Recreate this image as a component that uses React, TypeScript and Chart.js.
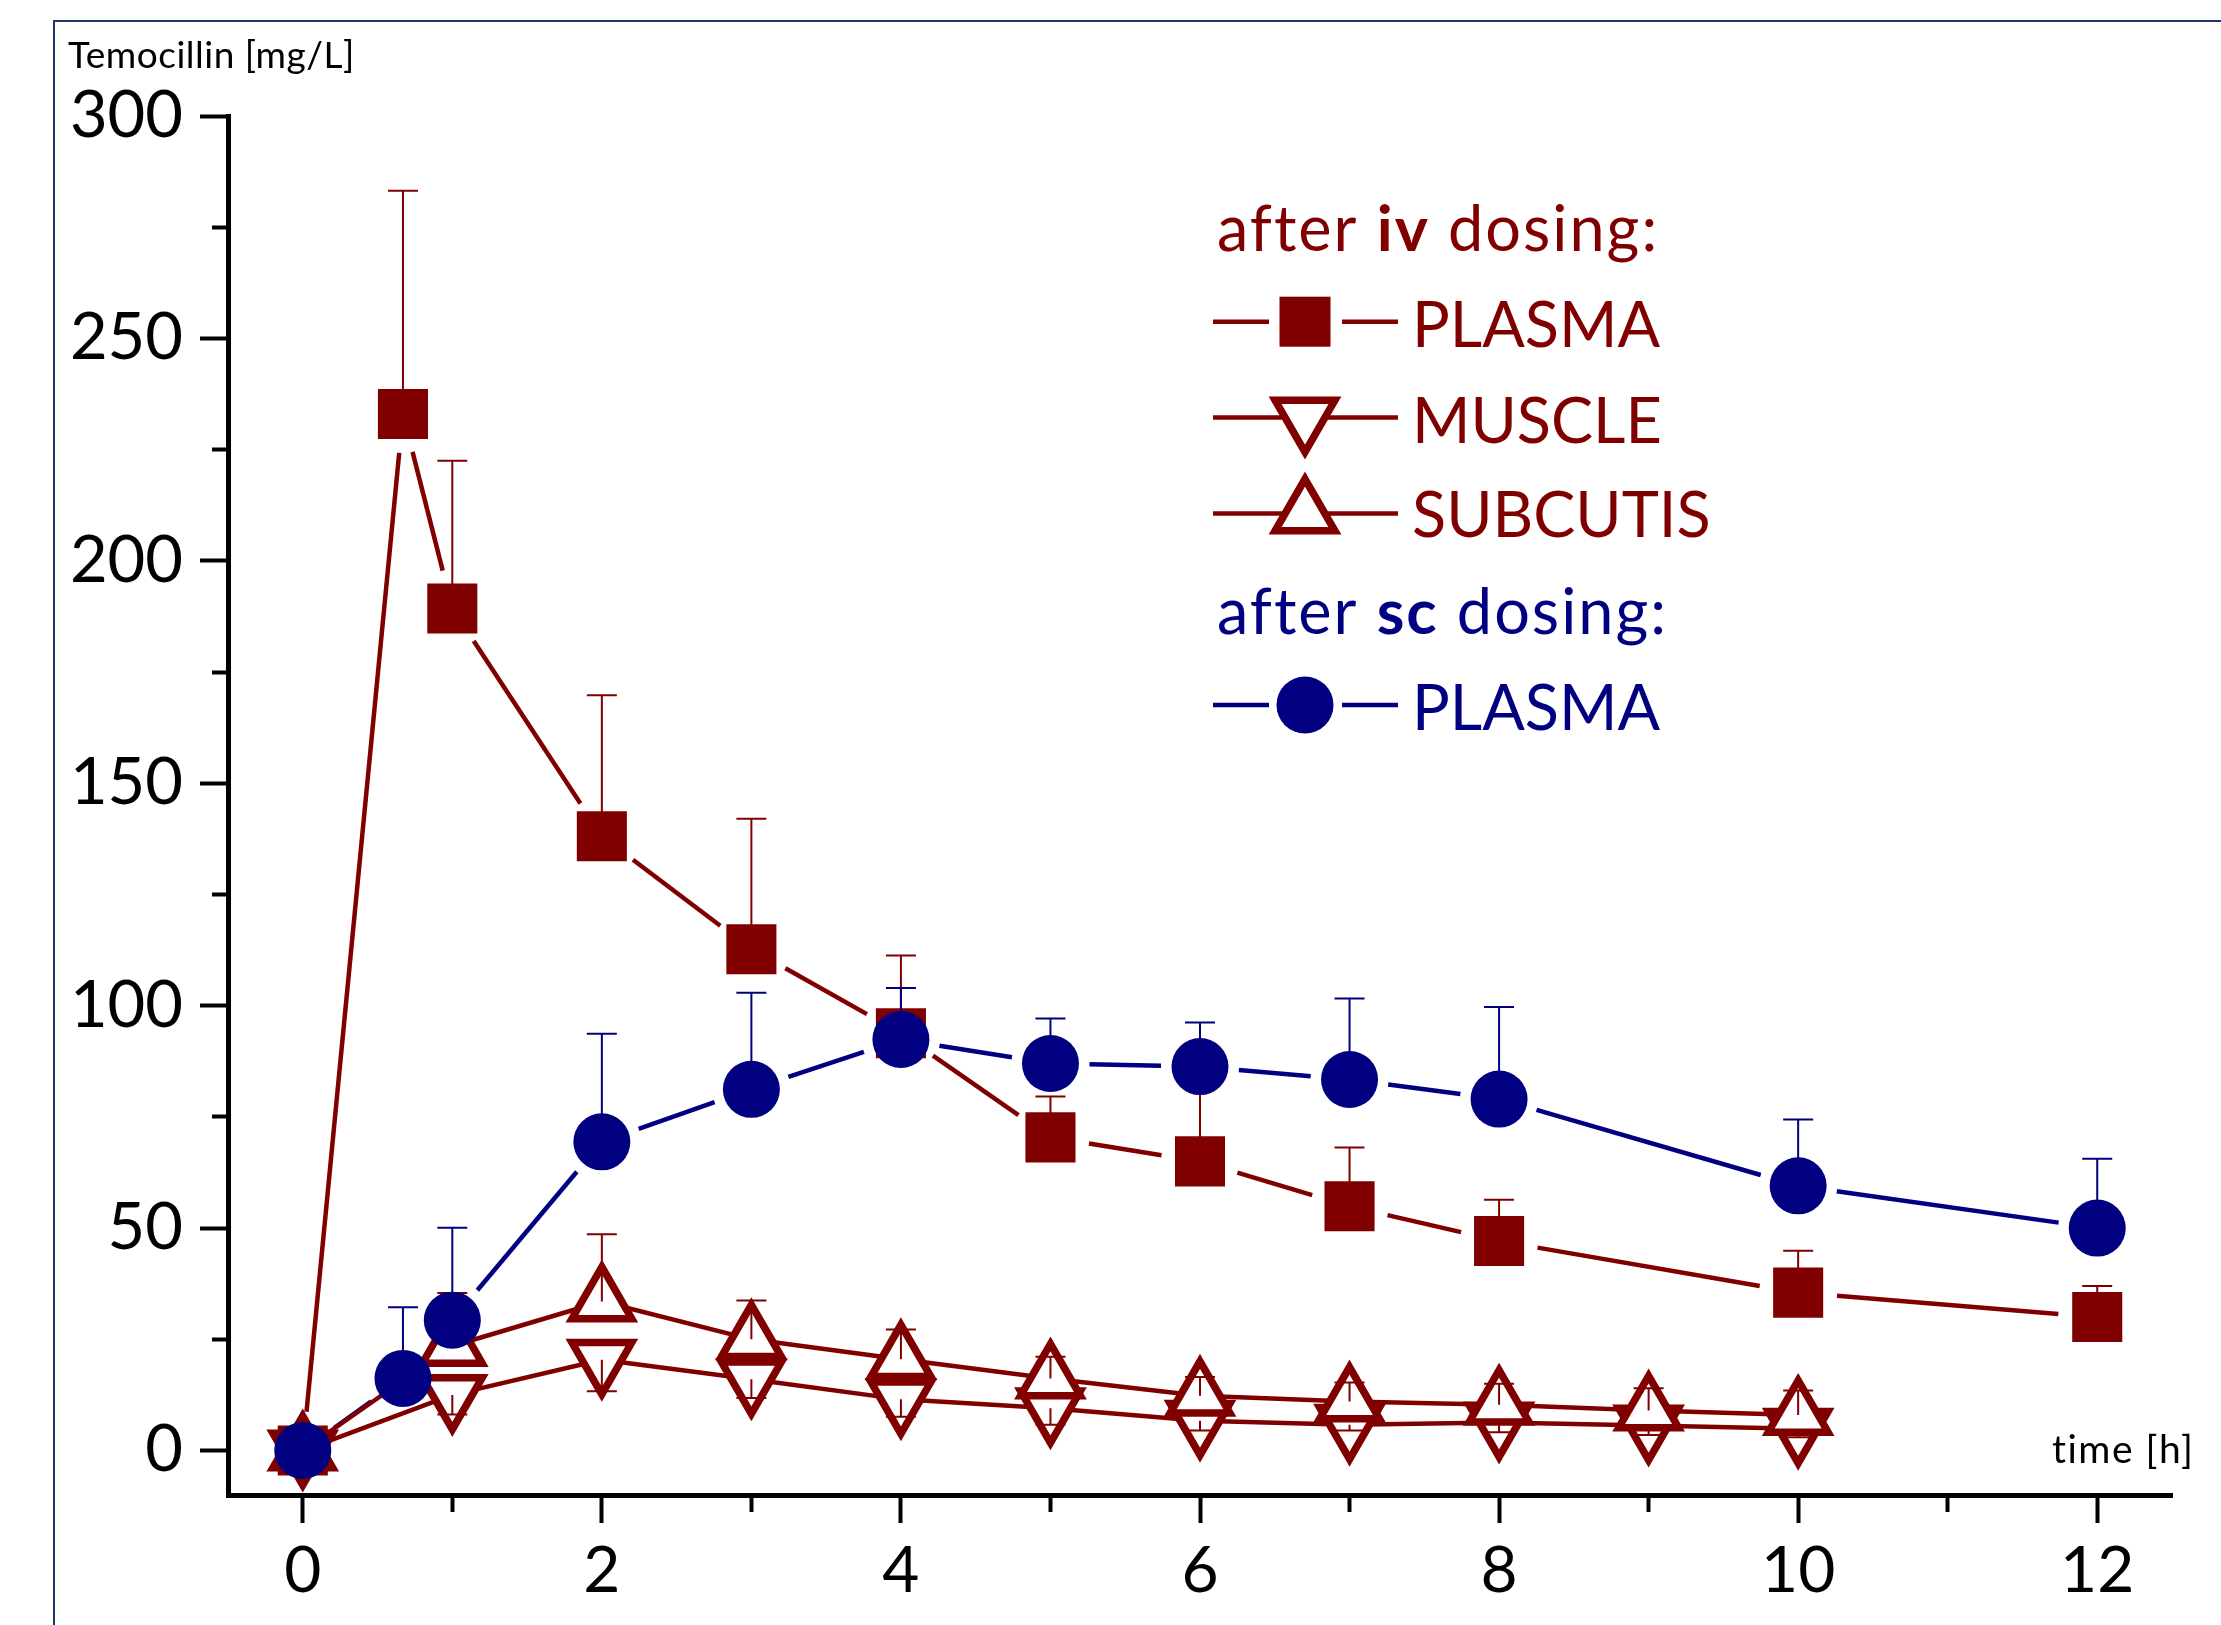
import React, { useEffect, useRef } from 'react';
import { Chart, registerables } from 'chart.js';

Chart.register(...registerables);

const RED = '#800000';
const BLUE = '#000080';
const FONT = 'Lato';

// time points [h]
const timePlasma = [0, 0.67, 1, 2, 3, 4, 5, 6, 7, 8, 10, 12];
const timeTissue = [0, 1, 2, 3, 4, 5, 6, 7, 8, 9, 10];

// after iv dosing
const ivPlasma = [0, 233, 189.3, 138.1, 112.7, 93.8, 70.4, 65, 54.9, 47.1, 35.5, 30];
const ivPlasmaSD = [0, 50.2, 33.2, 31.7, 29.3, 17.5, 9.2, 16, 13.2, 9.3, 9.4, 7];
const ivMuscle = [0, 12.5, 20.4, 16, 11.5, 9.5, 6.7, 5.8, 6.3, 5.6, 4.9];
const ivMuscleSD = [0, 4.4, 7.1, 4.2, 3.9, 3.7, 2.2, 1.3, 2.2, 2.1, 1.9];
const ivSubcutis = [0, 23.5, 33.5, 25, 20.5, 16.2, 12.3, 11, 10.3, 9, 8];
const ivSubcutisSD = [0, 11.9, 15.1, 8.7, 6.7, 4.9, 4.2, 4.3, 4.7, 5, 5.5];

// after sc dosing
const scPlasma = [0, 16.2, 29.3, 69.4, 81.2, 92.4, 87, 86.3, 83.4, 79, 59.5, 50];
const scPlasmaSD = [0, 16, 20.8, 24.3, 21.7, 11.6, 10.1, 9.9, 18.2, 20.7, 14.9, 15.6];

// axes
const xTickValues = [0, 1, 2, 3, 4, 5, 6, 7, 8, 9, 10, 11, 12];
const yTickValues = [0, 25, 50, 75, 100, 125, 150, 175, 200, 225, 250, 275, 300];

const yTitle = 'Temocillin [mg/L]';
const xTitle = 'time [h]';
const ivHeading = ['after ', 'iv', ' dosing:'];
const scHeading = ['after ', 'sc', ' dosing:'];
const legendLabels = ['PLASMA', 'MUSCLE', 'SUBCUTIS', 'PLASMA'];

const TRI_R = 34.5;
const TRI_W = 7.5;

const toPoints = (xs: number[], ys: number[]) => xs.map((x, i) => ({ x, y: ys[i] }));

// connecting lines with a gap around filled symbols
const gapLines = {
  id: 'gapLines',
  beforeDatasetsDraw(chart: any) {
    const ctx = chart.ctx;
    chart.data.datasets.forEach((ds: any, i: number) => {
      const pts = chart.getDatasetMeta(i).data;
      ctx.save();
      ctx.strokeStyle = ds.lineColor;
      ctx.lineWidth = 4.5;
      ctx.lineCap = 'butt';
      for (let k = 0; k < pts.length - 1; k++) {
        const a = pts[k];
        const b = pts[k + 1];
        const dx = b.x - a.x;
        const dy = b.y - a.y;
        const d = Math.hypot(dx, dy);
        const g = ds.gap;
        if (d <= 2 * g + 1) continue;
        const ux = dx / d;
        const uy = dy / d;
        ctx.beginPath();
        ctx.moveTo(a.x + ux * g, a.y + uy * g);
        ctx.lineTo(b.x - ux * g, b.y - uy * g);
        ctx.stroke();
      }
      ctx.restore();
    });
  },
};

// one-sided error bars
const errorBars = {
  id: 'errorBars',
  afterDatasetDraw(chart: any, args: any) {
    const ds: any = chart.data.datasets[args.index];
    const sd: number[] = ds.sd;
    if (!sd) return;
    const ctx = chart.ctx;
    const yScale = chart.scales.y;
    const pts = args.meta.data;
    ctx.save();
    ctx.strokeStyle = ds.lineColor;
    ctx.lineWidth = 2;
    pts.forEach((p: any, k: number) => {
      if (!sd[k]) return;
      const v = ds.data[k].y + ds.errDir * sd[k];
      const y1 = yScale.getPixelForValue(v);
      ctx.beginPath();
      ctx.moveTo(p.x, p.y);
      ctx.lineTo(p.x, y1);
      ctx.moveTo(p.x - 15, y1);
      ctx.lineTo(p.x + 15, y1);
      ctx.stroke();
    });
    ctx.restore();
  },
};

function drawMarker(ctx: CanvasRenderingContext2D, style: string, x: number, y: number) {
  ctx.save();
  if (style === 'rect') {
    ctx.fillStyle = RED;
    ctx.fillRect(x - 25.5, y - 25, 51, 50);
  } else if (style === 'circle') {
    ctx.fillStyle = BLUE;
    ctx.beginPath();
    ctx.arc(x, y, 28.5, 0, Math.PI * 2);
    ctx.fill();
  } else {
    const r = TRI_R;
    let rad = style === 'down' ? Math.PI : 0;
    ctx.beginPath();
    for (let i = 0; i < 3; i++) {
      const px = x + Math.sin(rad) * r;
      const py = y - Math.cos(rad) * r;
      if (i === 0) ctx.moveTo(px, py);
      else ctx.lineTo(px, py);
      rad += (2 * Math.PI) / 3;
    }
    ctx.closePath();
    ctx.fillStyle = '#ffffff';
    ctx.fill();
    ctx.strokeStyle = RED;
    ctx.lineWidth = TRI_W;
    ctx.stroke();
  }
  ctx.restore();
}

const decorations = {
  id: 'decorations',
  beforeDraw(chart: any) {
    const ctx = chart.ctx;
    ctx.save();
    ctx.fillStyle = '#ffffff';
    ctx.fillRect(0, 0, chart.width, chart.height);
    ctx.strokeStyle = '#1F3864';
    ctx.lineWidth = 2;
    ctx.beginPath();
    ctx.moveTo(54, chart.height);
    ctx.lineTo(54, 21);
    ctx.lineTo(chart.width, 21);
    ctx.stroke();
    ctx.restore();
  },
  afterDraw(chart: any) {
    const ctx = chart.ctx as any;
    ctx.save();
    ctx.fillStyle = '#000000';
    ctx.textBaseline = 'alphabetic';
    ctx.textAlign = 'left';
    ctx.font = `37px ${FONT}`;
    ctx.letterSpacing = '0.5px';
    ctx.fillText(yTitle, 68, 68);
    ctx.font = `39px ${FONT}`;
    ctx.letterSpacing = '1.5px';
    ctx.fillText(xTitle, 2052, 1463);

    const rich = (parts: string[], x: number, y: number, color: string) => {
      ctx.fillStyle = color;
      ctx.letterSpacing = '2px';
      parts.forEach((t, i) => {
        ctx.font = `${i === 1 ? 'bold ' : ''}63px ${FONT}`;
        ctx.fillText(t, x, y);
        x += ctx.measureText(t).width;
      });
    };
    rich(ivHeading, 1217, 251, RED);
    rich(scHeading, 1217, 634, BLUE);
    ctx.letterSpacing = '0px';

    const rows = [
      { y: 321.7, tb: 347, style: 'rect', color: RED, label: legendLabels[0] },
      { y: 417.5, tb: 443, style: 'down', color: RED, label: legendLabels[1] },
      { y: 513.5, tb: 537, style: 'up', color: RED, label: legendLabels[2] },
      { y: 705, tb: 730, style: 'circle', color: BLUE, label: legendLabels[3] },
    ];
    rows.forEach((r) => {
      ctx.strokeStyle = r.color;
      ctx.lineWidth = 4.5;
      ctx.beginPath();
      ctx.moveTo(1213, r.y);
      ctx.lineTo(1269, r.y);
      ctx.moveTo(1342, r.y);
      ctx.lineTo(1398, r.y);
      if (r.style === 'up' || r.style === 'down') {
        ctx.moveTo(1269, r.y);
        ctx.lineTo(1342, r.y);
      }
      ctx.stroke();
      drawMarker(ctx, r.style, 1305, r.y);
      ctx.fillStyle = r.color;
      ctx.font = `63px ${FONT}`;
      ctx.fillText(r.label, 1412, r.tb);
    });
    ctx.restore();
  },
};

export default function App() {
  const ref = useRef<HTMLCanvasElement | null>(null);

  useEffect(() => {
    if (!ref.current) return;
    const chart = new Chart(ref.current, {
      type: 'scatter',
      data: {
        datasets: [
          {
            label: 'sc PLASMA',
            data: toPoints(timePlasma, scPlasma),
            showLine: false,
            pointStyle: 'circle',
            pointRadius: 28.5,
            pointBackgroundColor: BLUE,
            pointBorderColor: BLUE,
            pointBorderWidth: 0,
            lineColor: BLUE,
            gap: 39,
            sd: scPlasmaSD,
            errDir: 1,
          } as any,
          {
            label: 'iv SUBCUTIS',
            data: toPoints(timeTissue, ivSubcutis),
            showLine: false,
            pointStyle: 'triangle',
            pointRotation: 0,
            pointRadius: TRI_R,
            pointBackgroundColor: '#ffffff',
            pointBorderColor: RED,
            pointBorderWidth: TRI_W,
            lineColor: RED,
            gap: 0,
            sd: ivSubcutisSD,
            errDir: 1,
          } as any,
          {
            label: 'iv MUSCLE',
            data: toPoints(timeTissue, ivMuscle),
            showLine: false,
            pointStyle: 'triangle',
            pointRotation: 180,
            pointRadius: TRI_R,
            pointBackgroundColor: '#ffffff',
            pointBorderColor: RED,
            pointBorderWidth: TRI_W,
            lineColor: RED,
            gap: 0,
            sd: ivMuscleSD,
            errDir: -1,
          } as any,
          {
            label: 'iv PLASMA',
            data: toPoints(timePlasma, ivPlasma),
            showLine: false,
            pointStyle: 'rect',
            pointRadius: 35.4,
            pointBackgroundColor: RED,
            pointBorderColor: RED,
            pointBorderWidth: 0,
            lineColor: RED,
            gap: 39,
            sd: ivPlasmaSD,
            errDir: 1,
          } as any,
        ],
      },
      options: {
        animation: false,
        responsive: false,
        events: [],
        layout: { padding: { top: 116, right: 49, left: 0, bottom: 0 } },
        plugins: {
          legend: { display: false },
          tooltip: { enabled: false },
          title: { display: false },
        },
        scales: {
          x: {
            type: 'linear',
            min: -0.5,
            max: 12.5,
            afterBuildTicks: (s: any) => {
              s.ticks = xTickValues.map((v) => ({ value: v }));
            },
            afterFit: (s: any) => {
              s.height = 130;
            },
            border: { display: true, color: '#000', width: 5 },
            grid: {
              drawOnChartArea: false,
              drawTicks: true,
              tickLength: 28,
              tickWidth: 4,
              tickColor: '#000',
              tickBorderDash: (c: any) => (c.tick && c.tick.value % 2 !== 0 ? [14, 100] : []),
            },
            ticks: {
              color: '#000',
              font: { family: FONT, size: 64 },
              padding: 10,
              maxRotation: 0,
              autoSkip: false,
              callback: (v: any) => (Number(v) % 2 === 0 ? String(v) : ''),
            },
          },
          y: {
            type: 'linear',
            min: -10,
            max: 300,
            afterBuildTicks: (s: any) => {
              s.ticks = yTickValues.map((v) => ({ value: v }));
            },
            afterFit: (s: any) => {
              s.width = 228;
            },
            border: { display: true, color: '#000', width: 5 },
            grid: {
              drawOnChartArea: false,
              drawTicks: true,
              tickLength: 28,
              tickWidth: 4,
              tickColor: '#000',
              tickBorderDash: (c: any) => (c.tick && c.tick.value % 50 !== 0 ? [0, 12, 100] : []),
            },
            ticks: {
              color: '#000',
              font: { family: FONT, size: 65 },
              padding: 17,
              autoSkip: false,
              callback: (v: any) => (Number(v) % 50 === 0 ? String(v) : ''),
            },
          },
        },
      },
      plugins: [decorations, gapLines, errorBars],
    } as any);
    return () => chart.destroy();
  }, []);

  return (
    <div style={{ position: 'fixed', left: 0, top: 0, width: 2221, height: 1625, overflow: 'hidden', background: '#fff' }}>
      <canvas ref={ref} width={2221} height={1625} style={{ width: 2221, height: 1625, display: 'block' }} />
    </div>
  );
}
